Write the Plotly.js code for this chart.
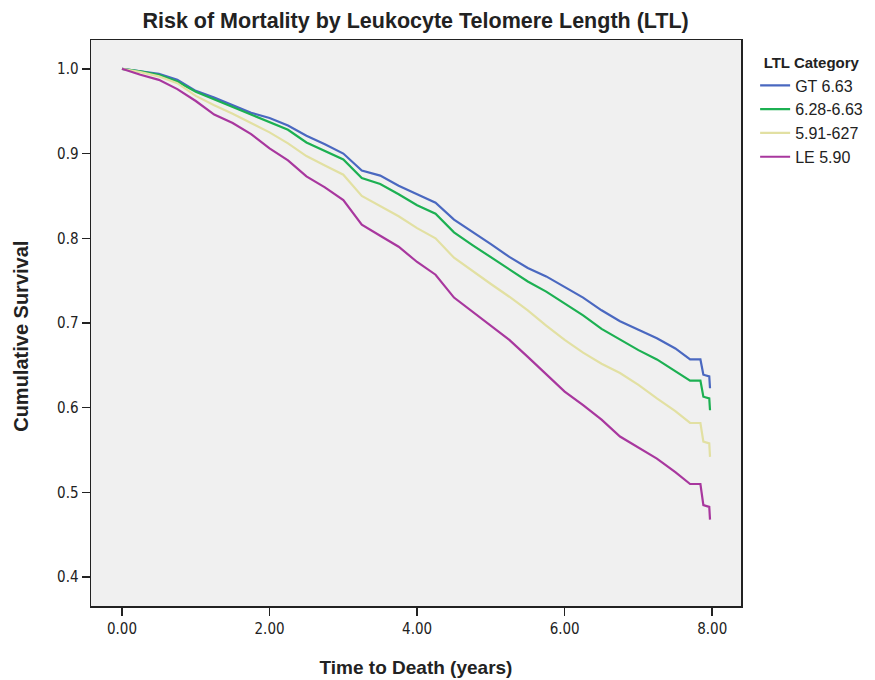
<!DOCTYPE html>
<html>
<head>
<meta charset="utf-8">
<script src="https://cdn.plot.ly/plotly-3.0.1.min.js"></script>
<style>body{margin:0;background:#fff;}#chart{width:875px;height:680px;}</style>
</head>
<body>
<div id="chart"></div>
<script>
const times = [0,0.25,0.5,0.75,1.0,1.25,1.5,1.75,2.0,2.25,2.5,2.75,3.0,3.25,3.5,3.75,4.0,4.25,4.5,4.75,5.0,5.25,5.5,5.75,6.0,6.25,6.5,6.75,7.0,7.25,7.5,7.70,7.84,7.88,7.96,7.97];
const seriesNames = ["GT 6.63","6.28-6.63","5.91-627","LE 5.90"];
const gt663 = [1.000,0.997,0.994,0.987,0.974,0.966,0.957,0.948,0.942,0.933,0.921,0.911,0.900,0.880,0.874,0.862,0.852,0.842,0.822,0.808,0.793,0.778,0.765,0.755,0.742,0.730,0.715,0.702,0.692,0.682,0.670,0.657,0.657,0.639,0.637,0.623];
const mid628 = [1.000,0.997,0.993,0.985,0.973,0.964,0.955,0.946,0.937,0.928,0.913,0.903,0.893,0.871,0.864,0.852,0.839,0.829,0.807,0.792,0.778,0.763,0.749,0.737,0.723,0.709,0.693,0.680,0.668,0.657,0.643,0.632,0.632,0.613,0.611,0.597];
const mid591 = [1.000,0.996,0.991,0.983,0.968,0.957,0.947,0.936,0.925,0.912,0.897,0.886,0.875,0.850,0.838,0.826,0.812,0.800,0.777,0.761,0.746,0.731,0.715,0.697,0.680,0.665,0.652,0.641,0.627,0.611,0.596,0.582,0.582,0.560,0.558,0.542];
const le590 = [1.000,0.993,0.987,0.976,0.962,0.946,0.936,0.923,0.906,0.892,0.873,0.860,0.845,0.816,0.803,0.790,0.772,0.757,0.730,0.713,0.697,0.680,0.660,0.640,0.619,0.603,0.586,0.566,0.553,0.540,0.524,0.510,0.510,0.485,0.483,0.468];
const xTickVals = [0,2,4,6,8];
const xTickText = ["0.00","2.00","4.00","6.00","8.00"];
const yTickVals = [0.4,0.5,0.6,0.7,0.8,0.9,1.0];
const yTickText = ["0.4","0.5","0.6","0.7","0.8","0.9","1.0"];

const colors = ["#4a68c0","#1cb052","#e2e0a2","#a8379e"];
const allY = [gt663, mid628, mid591, le590];
const traces = allY.map((ys,i)=>({
  x: times, y: ys, name: seriesNames[i], type:'scatter', mode:'lines',
  line:{shape:'linear', color: colors[i], width:2.2}
}));
const narrow = '"DejaVu Sans Condensed", "Liberation Sans Narrow", "Liberation Sans", Arial, sans-serif';
const sans = '"Liberation Sans", Arial, sans-serif';
const layout = {
  width:875, height:680,
  margin:{l:91, r:134, t:40, b:74, autoexpand:false},
  paper_bgcolor:'#ffffff', plot_bgcolor:'#f0f0f0',
  title:{text:'<b>Risk of Mortality by Leukocyte Telomere Length (LTL)</b>', x:0.475, xanchor:'center', y:0.97, yanchor:'middle',
    font:{family:sans, size:21.5, color:'#222'}},
  xaxis:{range:[-0.42,8.39], tickvals:xTickVals, ticktext:xTickText, showgrid:false, zeroline:false,
    showline:true, mirror:true, linecolor:'#222', linewidth:1.5, ticks:'outside', ticklen:8, tickwidth:1.5, tickcolor:'#222',
    tickfont:{family:narrow, size:15, color:'#222'},
    title:{text:'<b>Time to Death (years)</b>', font:{family:sans, size:19, color:'#222'}, standoff:24}},
  yaxis:{range:[0.366,1.034], tickvals:yTickVals, ticktext:yTickText, showgrid:false, zeroline:false,
    showline:true, mirror:true, linecolor:'#222', linewidth:1.5, ticks:'outside', ticklen:8, tickwidth:1.5, tickcolor:'#222',
    tickfont:{family:narrow, size:15, color:'#222'}},
  annotations:[{text:'<b>Cumulative Survival</b>', textangle:-90, xref:'paper', yref:'paper',
    x:-0.108, y:(606-336)/566, xanchor:'center', yanchor:'middle', showarrow:false,
    font:{family:sans, size:20, color:'#222'}}],
  legend:{xref:'container', yref:'container', x:0.863, xanchor:'left', y:0.928, yanchor:'top', bgcolor:'rgba(0,0,0,0)',
    title:{text:'<b>LTL Category</b>', side:'top center', font:{family:sans, size:15, color:'#222'}},
    font:{family:sans, size:16, color:'#222'}, itemwidth:30, tracegroupgap:0},
  showlegend:true
};
Plotly.newPlot('chart', traces, layout, {displayModeBar:false, staticPlot:true});
</script>
</body>
</html>
